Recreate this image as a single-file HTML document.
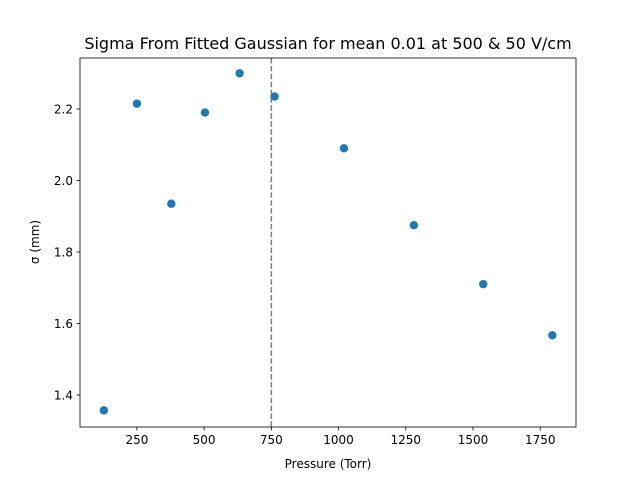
<!DOCTYPE html>
<html><head><meta charset="utf-8"><style>
html,body{margin:0;padding:0;background:#fff;}
svg{display:block;font-family:"DejaVu Sans","Liberation Sans",sans-serif;}
</style></head><body>
<svg id="chart" width="640" height="480" viewBox="0 0 640 480"></svg>
<script>
const pressures=[127,250,378,503,632,762,1020,1280,1538,1795];
const sigmas=[1.357,2.215,1.935,2.19,2.3,2.235,2.09,1.875,1.71,1.567];
const xTicks=[250,500,750,1000,1250,1500,1750];
const yTicks=[1.4,1.6,1.8,2.0,2.2];
const refLine=[750];
const L=80,R=576,T=58,B=427;
const xMin=38.4,xMax=1883,yMin=1.3105,yMax=2.3427;
const sx=v=>L+(v-xMin)/(xMax-xMin)*(R-L);
const sy=v=>B-(v-yMin)/(yMax-yMin)*(B-T);
const svg=document.getElementById('chart');
const NS='http://www.w3.org/2000/svg';
function mk(tag,attrs,txt){const e=document.createElementNS(NS,tag);for(const k in attrs)e.setAttribute(k,attrs[k]);if(txt!==undefined)e.textContent=txt;svg.appendChild(e);return e;}
let e;
e=mk('text',{x:328,y:49,'text-anchor':'middle','font-size':16},'Sigma From Fitted Gaussian for mean 0.01 at 500 & 50 V/cm');


refLine.forEach(v=>{
 e=mk('line',{x1:sx(v),x2:sx(v),y1:T,y2:B,stroke:'#808080','stroke-width':1.5,'stroke-dasharray':'5.5,2.4'});
 
 
});
pressures.forEach((p,i)=>{
 e=mk('circle',{cx:sx(p),cy:sy(sigmas[i]),r:4.2,fill:'#1f77b4'});
 
 
});
xTicks.forEach(v=>{
 const x=sx(v);
 e=mk('line',{x1:x,x2:x,y1:B,y2:B+3.5,stroke:'#000','stroke-width':0.8});
 
 
 e=mk('text',{x:x,y:B+17,'text-anchor':'middle','font-size':12},String(v));
 
 
});
yTicks.forEach(v=>{
 const y=sy(v);
 e=mk('line',{x1:L-3.5,x2:L,y1:y,y2:y,stroke:'#000','stroke-width':0.8});
 
 
 e=mk('text',{x:L-7,y:y+4.5,'text-anchor':'end','font-size':12},v.toFixed(1));
 
 
});
e=mk('rect',{x:L,y:T,width:R-L,height:B-T,fill:'none',stroke:'#000','stroke-width':0.8});


e=mk('text',{x:328,y:468,'text-anchor':'middle','font-size':12},'Pressure (Torr)');


e=mk('text',{x:0,y:0,'text-anchor':'middle','font-size':12,transform:'translate(39,242) rotate(-90)'},'σ (mm)');


</script>
</body></html>
